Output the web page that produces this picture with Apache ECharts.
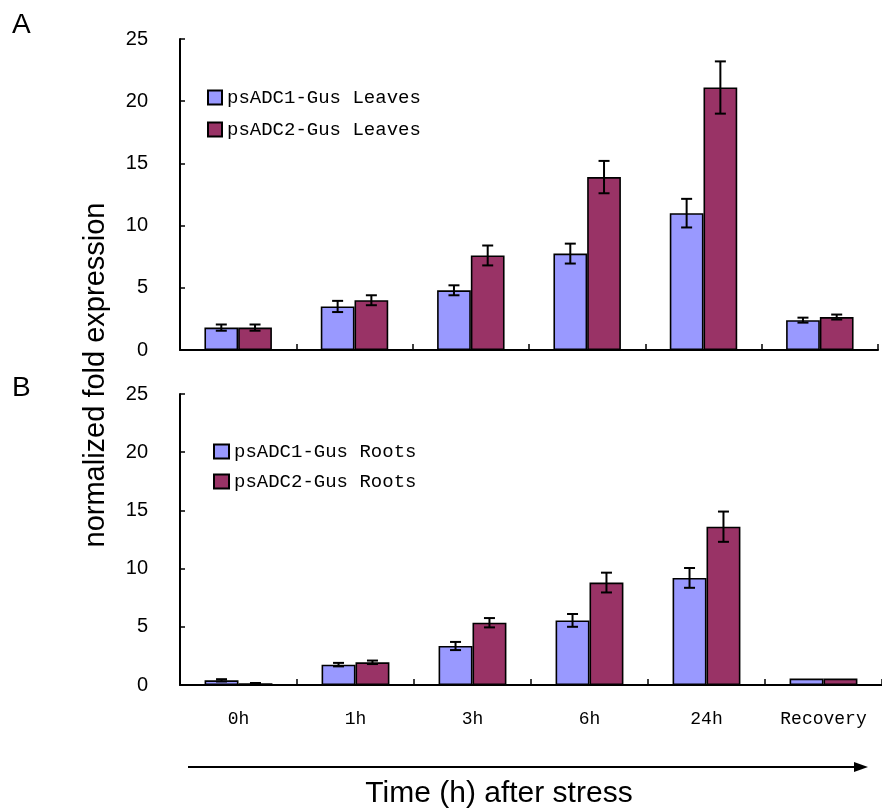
<!DOCTYPE html>
<html>
<head>
<meta charset="utf-8">
<script src="https://cdn.jsdelivr.net/npm/echarts@6/dist/echarts.min.js"></script>
<style>html,body{margin:0;padding:0;background:#fff;}#c{width:882px;height:812px;}</style>
</head>
<body>
<div id="c"></div>
<script>
const categories = ['0h', '1h', '3h', '6h', '24h', 'Recovery'];
const leavesADC1 = [1.8, 3.5, 4.8, 7.75, 11.0, 2.4];
const leavesADC1Err = [0.25, 0.45, 0.4, 0.8, 1.15, 0.2];
const leavesADC2 = [1.8, 4.0, 7.6, 13.9, 21.1, 2.65];
const leavesADC2Err = [0.25, 0.4, 0.8, 1.3, 2.1, 0.2];
const rootsADC1 = [0.4, 1.75, 3.35, 5.55, 9.2, 0.55];
const rootsADC1Err = [0.1, 0.15, 0.35, 0.55, 0.85, 0];
const rootsADC2 = [0.15, 1.95, 5.35, 8.8, 13.6, 0.55];
const rootsADC2Err = [0.02, 0.15, 0.4, 0.85, 1.3, 0];
const seriesNames = ['psADC1-Gus Leaves', 'psADC2-Gus Leaves', 'psADC1-Gus Roots', 'psADC2-Gus Roots'];
const yMin = 0, yMax = 25, yStep = 5;

const GAP = 0.42;
const BLUE = '#9999FF', RED = '#993366';
const monoFont = "'Liberation Mono', 'DejaVu Sans Mono', monospace";
const sansFont = "'Liberation Sans', Arial, sans-serif";

function errRender(sign) {
  return function (params, api) {
    const x = api.value(0), v = api.value(1), e = api.value(2);
    if (!e) return null;
    const c = api.coord([x, v]);
    const hi = api.coord([x, v + e]);
    const lo = api.coord([x, v - e]);
    const bw = api.size([1, 0])[0] * (1 - GAP) / 2;
    const cx = c[0] + sign * bw / 2;
    const hw = 5.5;
    const st = { stroke: '#000', lineWidth: 2 };
    return {
      type: 'group',
      children: [
        { type: 'line', shape: { x1: cx, y1: hi[1], x2: cx, y2: lo[1] }, style: st },
        { type: 'line', shape: { x1: cx - hw, y1: hi[1], x2: cx + hw, y2: hi[1] }, style: st },
        { type: 'line', shape: { x1: cx - hw, y1: lo[1], x2: cx + hw, y2: lo[1] }, style: st }
      ]
    };
  };
}
function errData(vals, errs) { return vals.map((v, i) => [i, v, errs[i]]); }

function xAxisCfg(idx, showLabels) {
  return {
    type: 'category', gridIndex: idx, data: categories,
    axisLine: { lineStyle: { color: '#000', width: 2 } },
    axisTick: { show: true, inside: true, length: 6, alignWithLabel: false, lineStyle: { color: '#000', width: 1.5 } },
    axisLabel: { show: showLabels, margin: 25, color: '#000', fontFamily: monoFont, fontSize: 18 },
    splitLine: { show: false }
  };
}
function yAxisCfg(idx) {
  return {
    type: 'value', gridIndex: idx, min: yMin, max: yMax, interval: yStep,
    axisLine: { show: true, lineStyle: { color: '#000', width: 2 } },
    axisTick: { show: true, inside: true, length: 5, lineStyle: { color: '#000', width: 1.5 } },
    axisLabel: { margin: 32, color: '#000', fontFamily: sansFont, fontSize: 20 },
    splitLine: { show: false }
  };
}
function barSeries(name, idx, data, color) {
  return {
    type: 'bar', name: name, xAxisIndex: idx, yAxisIndex: idx, data: data,
    barGap: '0%', barCategoryGap: (GAP * 100) + '%',
    itemStyle: { color: color, borderColor: '#000', borderWidth: 1.6 },
    emphasis: { disabled: true }
  };
}
function errSeries(idx, vals, errs, sign) {
  return {
    type: 'custom', xAxisIndex: idx, yAxisIndex: idx, z: 5,
    renderItem: errRender(sign), data: errData(vals, errs), silent: true
  };
}

const chart = echarts.init(document.getElementById('c'), null, { renderer: 'canvas' });
const legendText = { color: '#000', fontFamily: monoFont, fontSize: 19 };
chart.setOption({
  animation: false,
  backgroundColor: '#fff',
  grid: [
    { left: 180, top: 39, width: 698, height: 311 },
    { left: 180, top: 394, width: 710, height: 291 }
  ],
  xAxis: [xAxisCfg(0, false), xAxisCfg(1, true)],
  yAxis: [yAxisCfg(0), yAxisCfg(1)],
  legend: [
    { data: [seriesNames[0], seriesNames[1]], orient: 'vertical', left: 202, top: 83, icon: 'rect',
      itemWidth: 14, itemHeight: 14, itemGap: 13, textStyle: legendText, selectedMode: false },
    { data: [seriesNames[2], seriesNames[3]], orient: 'vertical', left: 208, top: 437, icon: 'rect',
      itemWidth: 15, itemHeight: 14, itemGap: 11, textStyle: legendText, selectedMode: false }
  ],
  series: [
    barSeries(seriesNames[0], 0, leavesADC1, BLUE),
    barSeries(seriesNames[1], 0, leavesADC2, RED),
    barSeries(seriesNames[2], 1, rootsADC1, BLUE),
    barSeries(seriesNames[3], 1, rootsADC2, RED),
    errSeries(0, leavesADC1, leavesADC1Err, -1),
    errSeries(0, leavesADC2, leavesADC2Err, 1),
    errSeries(1, rootsADC1, rootsADC1Err, -1),
    errSeries(1, rootsADC2, rootsADC2Err, 1)
  ],
  graphic: [
    { type: 'text', left: 12, top: 11, style: { text: 'A', fontFamily: sansFont, fontSize: 28, fill: '#000' } },
    { type: 'text', left: 12, top: 374, style: { text: 'B', fontFamily: sansFont, fontSize: 28, fill: '#000' } },
    { type: 'text', x: 96, y: 375, rotation: Math.PI / 2,
      style: { text: 'normalized fold expression', fontFamily: sansFont, fontSize: 29, fill: '#000', align: 'center', verticalAlign: 'middle' } },
    { type: 'text', x: 499, y: 794,
      style: { text: 'Time (h) after stress', fontFamily: sansFont, fontSize: 30, fill: '#000', align: 'center', verticalAlign: 'middle' } },
    { type: 'line', shape: { x1: 188, y1: 767, x2: 858, y2: 767 }, style: { stroke: '#000', lineWidth: 2 } },
    { type: 'polygon', shape: { points: [[854, 762], [868, 767], [854, 772]] }, style: { fill: '#000' } }
  ]
});
</script>
</body>
</html>
